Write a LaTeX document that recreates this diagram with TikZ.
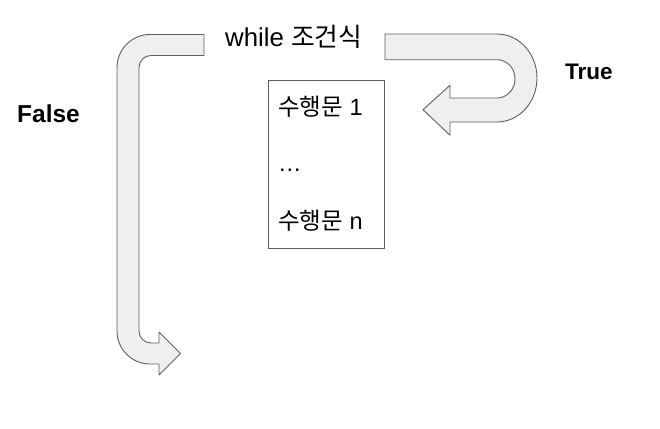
\documentclass[tikz,border=0pt]{standalone}
\usepackage{fontspec}
\setmainfont{Liberation Sans}
\newfontfamily\kr{Noto Sans CJK KR}
\definecolor{arrowfill}{HTML}{EFEFEF}
\definecolor{edgegray}{HTML}{5F5F5F}
\begin{document}
\begin{tikzpicture}[x=1pt,y=-1pt,
  blockarrow/.style={fill=arrowfill,draw=edgegray,line width=0.9pt,line join=round},
  bodybox/.style={draw=edgegray,line width=0.9pt},
  txt/.style={anchor=base west,inner sep=0pt,font=\fontsize{23.5}{28}\selectfont},
  btxt/.style={anchor=base west,inner sep=0pt,font=\fontsize{23.5}{28}\selectfont\bfseries}]
\useasboundingbox (0,0) rectangle (660,428);
% False arrow
\draw[blockarrow] (204,34.5) -- (150,34.5) arc[start angle=270,end angle=180,radius=33]
  -- (117,331) arc[start angle=180,end angle=90,radius=33]
  -- (159,364) -- (159,375) -- (180.5,353.5) -- (159,332) -- (159,343)
  -- (151,343) arc[start angle=90,end angle=180,radius=12]
  -- (139,67.5) arc[start angle=180,end angle=270,radius=12]
  -- (204,55.5) -- cycle;
% True arrow
\draw[blockarrow] (385,34) -- (497,34) arc[start angle=270,end angle=450,x radius=40,y radius=44]
  -- (450,122) -- (450,135.3) -- (423,109.7) -- (450,85.3) -- (450,98)
  -- (497,98) arc[start angle=90,end angle=-90,x radius=18,y radius=19.15]
  -- (385,59.7) -- cycle;
% body box
\node[bodybox,minimum width=116pt,minimum height=168pt,inner sep=0pt] (body) at (326,164) {};
\node[txt,font=\fontsize{25.8}{30}\selectfont] (cond) at (225,46) {while {\kr 조건식}};
\node[txt] (s1) at (278,115) {{\kr 수행문} 1};
\node[txt] (dots) at (278,171) {…};
\node[txt] (sn) at (278,229) {{\kr 수행문} n};
\node[btxt,font=\fontsize{22.5}{27}\selectfont\bfseries] (t) at (565,79) {True};
\node[btxt,font=\fontsize{24.5}{29}\selectfont\bfseries] (f) at (17,122) {False};
\end{tikzpicture}
\end{document}
